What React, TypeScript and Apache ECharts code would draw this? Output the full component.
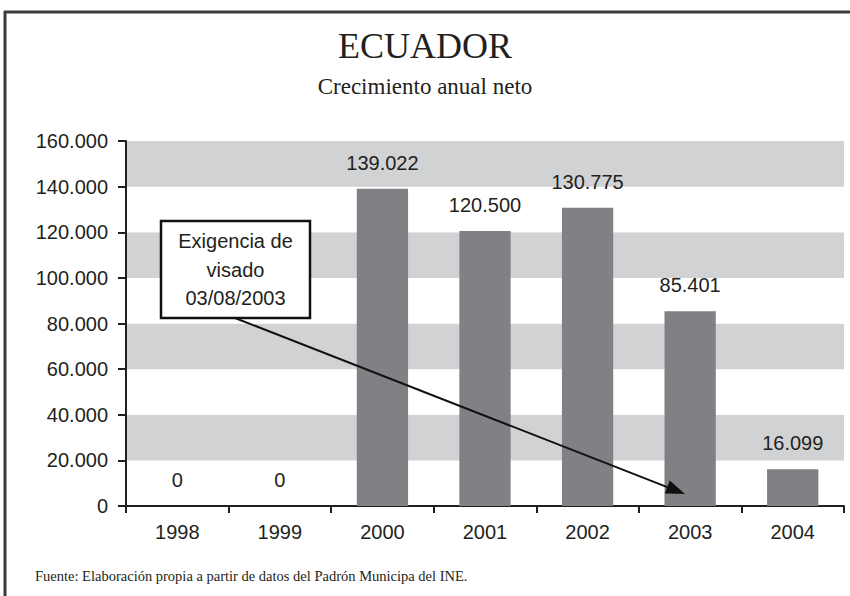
import React, { useEffect, useRef } from "react";
import * as echarts from "echarts";

const categories = ["1998", "1999", "2000", "2001", "2002", "2003", "2004"];
const values = [0, 0, 139022, 120500, 130775, 85401, 16099];
const yTicks = { min: 0, max: 160000, interval: 20000 };
const titleText = "ECUADOR";
const subtitleText = "Crecimiento anual neto";
const sourceText = "Fuente: Elaboración propia a partir de datos del Padrón Municipa del INE.";
const noteLines = ["Exigencia de", "visado", "03/08/2003"];

const SANS = "'Liberation Sans', Arial, sans-serif";
const SERIF = "'Liberation Serif', 'DejaVu Serif', serif";
const INK = "#231f20";

function fmt(v: number): string {
  return Math.round(v)
    .toString()
    .replace(/\B(?=(\d{3})+(?!\d))/g, ".");
}

export default function App() {
  const ref = useRef<HTMLDivElement>(null);
  useEffect(() => {
    if (!ref.current) return;
    const chart = echarts.init(ref.current, undefined, { renderer: "svg" });
    // arrow geometry (annotation)
    const sx = 235, sy = 318, tx = 685, ty = 494;
    const dx = tx - sx, dy = ty - sy;
    const len = Math.sqrt(dx * dx + dy * dy);
    const ux = dx / len, uy = dy / len;
    const hl = 19, hw = 7;
    const bx = tx - ux * hl, by = ty - uy * hl;
    chart.setOption({
      animation: false,
      backgroundColor: "#ffffff",
      title: [
        {
          text: titleText,
          left: "center",
          top: 28,
          padding: 0,
          textStyle: { fontFamily: SERIF, fontSize: 36, fontWeight: "normal", color: INK },
        },
        {
          text: subtitleText,
          left: "center",
          top: 75,
          padding: 0,
          textStyle: { fontFamily: SERIF, fontSize: 23, fontWeight: "normal", color: INK },
        },
        {
          text: sourceText,
          left: 35,
          top: 568,
          padding: 0,
          textStyle: { fontFamily: SERIF, fontSize: 14.5, fontWeight: "normal", color: INK },
        },
      ],
      grid: { left: 126, right: 6, top: 141, bottom: 90, containLabel: false },
      xAxis: {
        type: "category",
        data: categories,
        axisLine: { lineStyle: { color: INK, width: 2 } },
        axisTick: { show: true, length: 7, lineStyle: { color: INK, width: 2 } },
        axisLabel: { color: INK, fontFamily: SANS, fontSize: 20, margin: 16 },
        splitLine: { show: false },
      },
      yAxis: {
        type: "value",
        min: yTicks.min,
        max: yTicks.max,
        interval: yTicks.interval,
        axisLine: { show: true, lineStyle: { color: INK, width: 2 } },
        axisTick: { show: true, length: 8, lineStyle: { color: INK, width: 2 } },
        axisLabel: {
          color: INK,
          fontFamily: SANS,
          fontSize: 20,
          margin: 18,
          formatter: (v: number) => fmt(v),
        },
        splitLine: { show: false },
        splitArea: { show: true, areaStyle: { color: ["#ffffff", "#d1d2d4"] } },
      },
      series: [
        {
          type: "bar",
          data: values,
          barWidth: "50%",
          itemStyle: { color: "#808184" },
          label: {
            show: true,
            position: "top",
            distance: 16,
            color: INK,
            fontFamily: SANS,
            fontSize: 20,
            formatter: (p: any) => fmt(p.value),
          },
        },
      ],
      graphic: [
        { type: "line", shape: { x1: 4, y1: 12, x2: 850, y2: 12 }, style: { stroke: "#3a3a3a", lineWidth: 3 } },
        { type: "line", shape: { x1: 5, y1: 11, x2: 5, y2: 596 }, style: { stroke: "#3a3a3a", lineWidth: 3 } },
        {
          type: "line",
          shape: { x1: sx, y1: sy, x2: bx, y2: by },
          style: { stroke: "#111", lineWidth: 2 },
          z: 100,
        },
        {
          type: "polygon",
          shape: {
            points: [
              [tx, ty],
              [bx - uy * hw, by + ux * hw],
              [bx + uy * hw, by - ux * hw],
            ],
          },
          style: { fill: "#111" },
          z: 100,
        },
        {
          type: "rect",
          shape: { x: 161, y: 221, width: 149, height: 97 },
          style: { fill: "#ffffff", stroke: "#111", lineWidth: 2.5 },
          z: 101,
        },
        ...noteLines.map((t, i) => ({
          type: "text",
          x: 235.5,
          y: 241 + i * 28.5,
          z: 102,
          style: {
            text: t,
            fill: INK,
            font: `20px ${SANS}`,
            textAlign: "center",
            textVerticalAlign: "middle",
          },
        })),
      ],
    });
    return () => chart.dispose();
  }, []);
  return <div ref={ref} style={{ width: 850, height: 596, position: "absolute", left: 0, top: 0 }} />;
}
